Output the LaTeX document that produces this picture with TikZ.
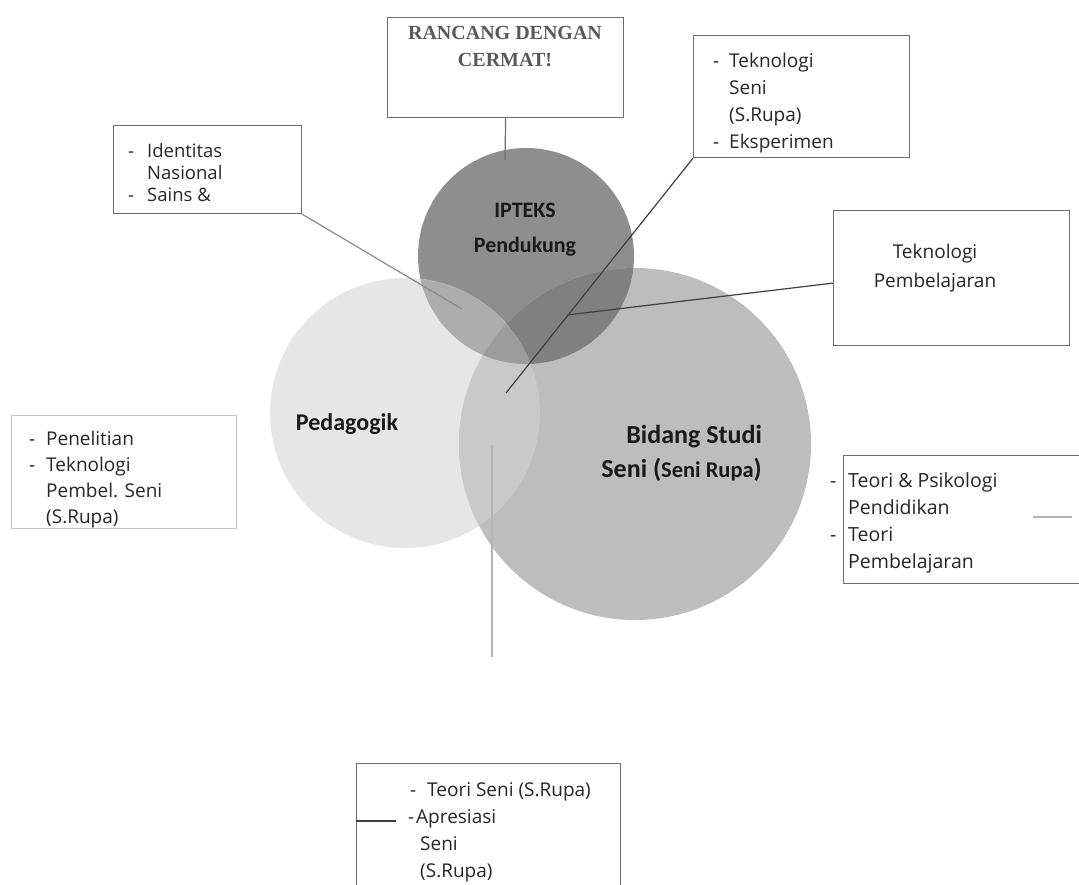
\documentclass[tikz,border=0pt]{standalone}
\usepackage{fontspec}
\setmainfont{Open Sans}
\newfontfamily\calibri{Carlito}
\newfontfamily\serifhead{Liberation Serif}

\definecolor{iptgray}{HTML}{8E8E8E}
\definecolor{pedgray}{HTML}{E6E6E6}
\definecolor{bidgray}{HTML}{BDBDBD}
\definecolor{ipgray}{HTML}{ADADAD}
\definecolor{ibgray}{HTML}{808080}
\definecolor{pbgray}{HTML}{C9C9C9}
\definecolor{allgray}{HTML}{9C9C9C}
\definecolor{boxgray}{HTML}{6E6E6E}
\definecolor{lightbox}{HTML}{C4C4C4}
\definecolor{textgray}{HTML}{262626}
\definecolor{linegray}{HTML}{8A8A8A}
\definecolor{darkline}{HTML}{404040}
\definecolor{paleline}{HTML}{B4B4B4}
\definecolor{headgray}{HTML}{595959}

\newcommand{\dashitem}[1][16pt]{\hbox to #1{-\hfil}}

\tikzset{
  callout/.style={draw=boxgray, line width=1.2pt, anchor=north west, inner sep=0pt},
  itemtext/.style={anchor=north west, inner sep=0pt, align=left, text=textgray},
  circlabel/.style={font=\calibri\bfseries, text=black!90, inner sep=0pt}
}

\begin{document}
\begin{tikzpicture}[x=1pt, y=-1pt]
  \useasboundingbox (0,0) rectangle (1079,885);
  \fill[white] (0,0) rectangle (1079,885);

  % the three circles
  \coordinate (cI) at (526,256);
  \coordinate (cP) at (405,413);
  \coordinate (cB) at (635,444);
  \fill[iptgray] (cI) circle (108pt);
  \fill[pedgray] (cP) circle (135pt);
  \fill[bidgray] (cB) circle (176pt);
  \begin{scope}
    \clip (cI) circle (108pt);
    \fill[ipgray] (cP) circle (135pt);
    \fill[ibgray] (cB) circle (176pt);
  \end{scope}
  \begin{scope}
    \clip (cP) circle (135pt);
    \fill[pbgray] (cB) circle (176pt);
    \clip (cI) circle (108pt);
    \fill[allgray] (cB) circle (176pt);
  \end{scope}

  \node[circlabel, align=center, anchor=north, font=\calibri\bfseries\fontsize{22}{35}\selectfont]
    (iptlabel) at (525,203) {IPTEKS\\Pendukung};
  \node[circlabel, anchor=base, font=\calibri\bfseries\fontsize{24}{30}\selectfont]
    (pedlabel) at (347,430) {Pedagogik};
  \node[circlabel, align=right, anchor=north east, font=\calibri\bfseries\fontsize{26}{34}\selectfont]
    (bidlabel) at (762,425) {Bidang Studi\\Seni ({\fontsize{22.5}{34}\selectfont Seni Rupa})};

  % boxes
  \node[callout, minimum width=236pt, minimum height=100pt] (rancang) at (387,17) {};
  \node[callout, minimum width=216pt, minimum height=122pt] (tekseni) at (693,35) {};
  \node[callout, minimum width=188pt, minimum height=88pt] (identitas) at (113,125) {};
  \node[callout, minimum width=236pt, minimum height=135pt] (tekpemb) at (833,210) {};
  \node[callout, draw=lightbox, minimum width=225pt, minimum height=113pt] (penelitian) at (11,415) {};
  \node[callout, minimum width=240pt, minimum height=128pt] (teori) at (843,455) {};
  \node[callout, minimum width=264pt, minimum height=130pt] (bawah) at (356,763) {};

  % box texts
  \node[anchor=north, inner sep=0pt, align=center, text=headgray,
    font=\serifhead\bfseries\fontsize{20}{27}\selectfont] (rancangtxt) at (505,26) {RANCANG DENGAN\\CERMAT!};
  \node[itemtext, font=\fontsize{19}{27}\selectfont] (teksenitxt) at (713,53)
    {\dashitem Teknologi\\\hspace*{16pt}Seni\\\hspace*{16pt}(S.Rupa)\\\dashitem Eksperimen};
  \node[itemtext, font=\fontsize{18.5}{22}\selectfont] (identitastxt) at (128,143)
    {\dashitem[19pt]Identitas\\\hspace*{19pt}Nasional\\\dashitem[19pt]Sains \&};
  \node[itemtext, anchor=north, align=center, font=\fontsize{19}{29}\selectfont] (tekpembtxt) at (935,244)
    {Teknologi\\Pembelajaran};
  \node[itemtext, font=\fontsize{19}{26}\selectfont] (penelitiantxt) at (29,431)
    {\dashitem[17pt]Penelitian\\\dashitem[17pt]Teknologi\\\hspace*{17pt}Pembel. Seni\\\hspace*{17pt}(S.Rupa)};
  \node[itemtext, font=\fontsize{19.5}{27}\selectfont] (teoritxt) at (830,472)
    {\dashitem[18pt]Teori \& Psikologi\\\hspace*{18pt}Pendidikan\\\dashitem[18pt]Teori\\\hspace*{18pt}Pembelajaran};
  \node[itemtext, font=\fontsize{19}{27}\selectfont] (bawahtxt) at (408,782)
    {\hspace*{2pt}\dashitem[17pt]Teori Seni (S.Rupa)\\\dashitem[8pt]Apresiasi\\\hspace*{12pt}Seni\\\hspace*{12pt}(S.Rupa)};

  % connectors
  \coordinate (iptop) at (505,160);
  \coordinate (tekend) at (506,393);
  \coordinate (tekjoin) at (567,315);
  \coordinate (idend) at (462,309);
  \coordinate (vtop) at (492,445);
  \coordinate (vbot) at (492,657);
  \coordinate (teorimark) at (1033,517);
  \coordinate (bawahmark) at (396,821);
  \draw[boxgray, line width=1.2pt] (rancang.south) -- (iptop);
  \draw[darkline, line width=1.2pt] (tekseni.south west) -- (tekend);
  \draw[darkline, line width=1.2pt] ([yshift=-5pt]tekpemb.west) -- (tekjoin);
  \draw[linegray, line width=1.2pt] (identitas.south east) -- (idend);
  \draw[paleline, line width=2pt] (vtop) -- (vbot);
  \draw[paleline, line width=2pt] (teorimark) -- ++(39,0);
  \draw[darkline, line width=1.2pt] (bawah.west |- bawahmark) -- (bawahmark);
\end{tikzpicture}
\end{document}
